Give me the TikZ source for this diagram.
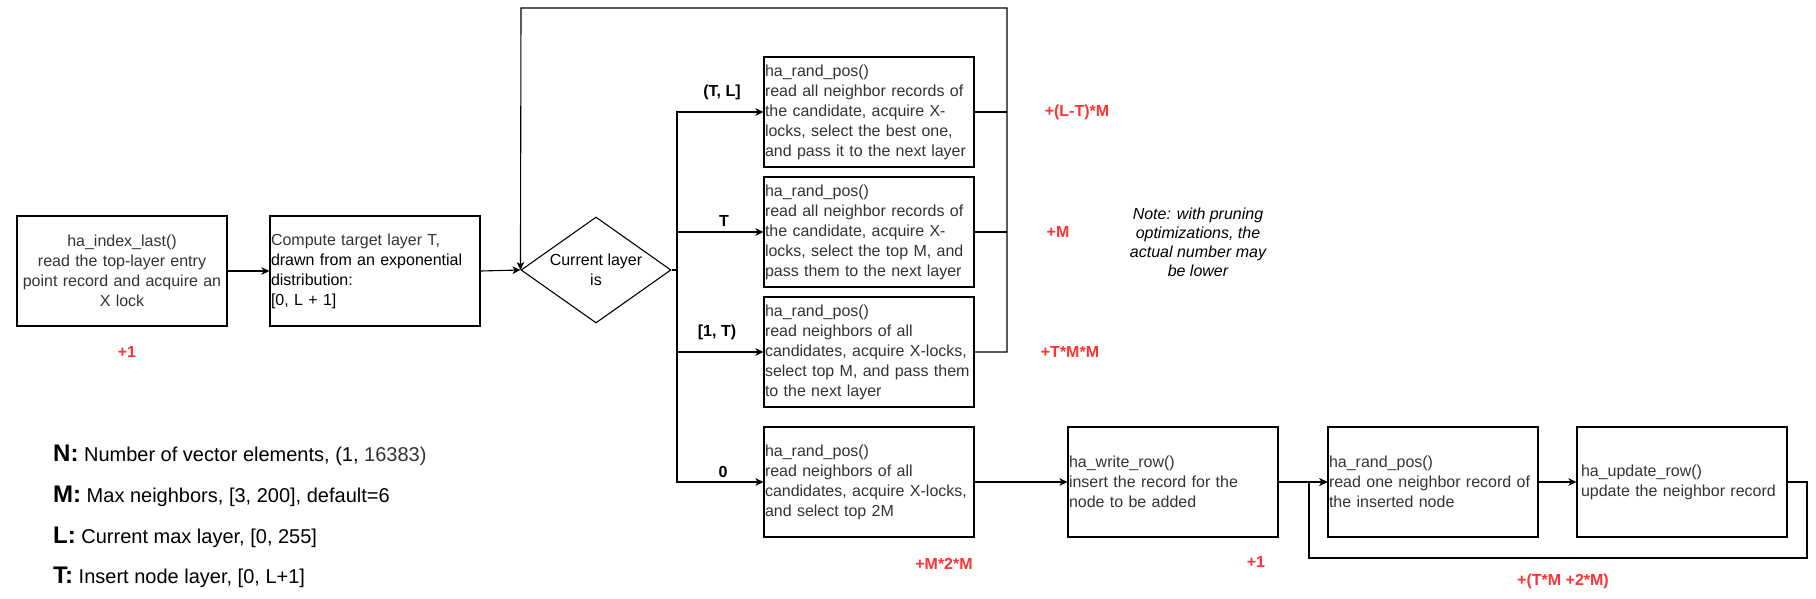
\documentclass[tikz,border=0pt]{standalone}
\usepackage{fontspec}
\setmainfont{Liberation Sans}
\usetikzlibrary{shapes.geometric,arrows.meta}
\definecolor{txtgray}{HTML}{333333}
\definecolor{costred}{HTML}{FF3333}
\begin{document}
\begin{tikzpicture}[x=1pt,y=-1pt,
  box/.style={draw, line width=1.1pt, rectangle, minimum width=210pt, minimum height=110pt,
    text width=208pt, inner xsep=1pt, inner ysep=0pt, align=left,
    font=\fontsize{16}{20}\selectfont, text=txtgray},
  ln/.style={draw, line width=1.1pt},
  arr/.style={ln, -{Stealth[length=8pt,width=7.5pt,inset=2.2pt]}},
  lab/.style={font=\bfseries\fontsize{16}{20}\selectfont, inner sep=0pt},
  cost/.style={lab, text=costred},
  legend/.style={anchor=base west, inner sep=0pt, font=\fontsize{20}{24}\selectfont},
  key/.style={font=\bfseries\fontsize{24}{24}\selectfont}
]
\useasboundingbox (0,0) rectangle (1816,598);

% main chain
\node[box, align=center] (idx) at (122,271) {ha\_index\_last()\\read the top-layer entry\\point record and acquire an\\X lock};
\node[box] (comp) at (375,271) {Compute target layer T,\\{\color{black}drawn from an exponential}\\{\color{black}distribution:}\\{\color{black}[0, L + 1]}};
\node[diamond, draw, line width=1.1pt, shape aspect=1.415, minimum width=150pt, minimum height=106pt,
  inner sep=0pt, align=center, font=\fontsize{16}{20}\selectfont] (dia) at (596,270) {Current layer\\is};

% layer branches
\node[box] (A) at (869,112) {ha\_rand\_pos()\\read all neighbor records of\\the candidate, acquire X-\\locks, select the best one,\\and pass it to the next layer};
\node[box] (B) at (869,232) {ha\_rand\_pos()\\read all neighbor records of\\the candidate, acquire X-\\locks, select the top M, and\\pass them to the next layer};
\node[box] (C) at (869,352) {ha\_rand\_pos()\\read neighbors of all\\candidates, acquire X-locks,\\select top M, and pass them\\to the next layer};
\node[box] (D) at (869,482) {ha\_rand\_pos()\\read neighbors of all\\candidates, acquire X-locks,\\and select top 2M};

% bottom chain
\node[box] (E) at (1173,482) {ha\_write\_row()\\insert the record for the\\node to be added};
\node[box] (F) at (1433,482) {ha\_rand\_pos()\\read one neighbor record of\\the inserted node};
\node[box, text width=202pt, inner xsep=4pt] (G) at (1682,482) {ha\_update\_row()\\update the neighbor record};

% connectors
\draw[arr] (idx) -- (comp);
\draw[arr] (comp.east) -- (dia.west);

\coordinate (br) at (677,270);
\draw[ln] (dia.east) -- (br);
\draw[arr] (br) |- (A.west);
\draw[arr] (br) |- (B.west);
\draw[arr] (br) |- (C.west);
\draw[arr] (br) |- (D.west);

\coordinate (loopR) at (1007,8);
\coordinate (loopL) at (521,8);
\draw[ln] (A.east) -- (A.east -| loopR);
\draw[ln] (B.east) -- (B.east -| loopR);
\draw[arr] (C.east) -| (loopR) -- (loopL) -- (dia.west);

\draw[arr] (D) -- (E);
\draw[arr] (E) -- (F);
\draw[arr] (F) -- (G);
\coordinate (gl1) at (1807,558);
\coordinate (gl2) at (1309,558);
\draw[arr] (G.east) -| (gl1) -- (gl2) |- (F.west);

% branch labels
\node[lab] (lTL) at (722,92) {(T, L]};
\node[lab] (lT) at (724,221) {T};
\node[lab] (l1T) at (717,332) {[1, T)};
\node[lab] (l0) at (723,472) {0};

% cost labels
\node[cost] (c1) at (127,352) {+1};
\node[cost] (cA) at (1077,112) {+(L-T)*M};
\node[cost] (cB) at (1058,232) {+M};
\node[cost] (cC) at (1070,352) {+T*M*M};
\node[cost] (cD) at (944,564) {+M*2*M};
\node[cost] (cE) at (1256,562) {+1};
\node[cost] (cG) at (1563,581) {+(T*M +2*M)};

% note
\node[align=center, inner sep=0pt, font=\itshape\fontsize{16}{19}\selectfont] (note) at (1198,242)
  {Note: with pruning\\optimizations, the\\actual number may\\be lower};

% legend
\node[legend] (kN) at (53,461) {{\bfseries\fontsize{24}{24}\selectfont N:} Number of vector elements, (1, {\color{txtgray}16383)}};
\node[legend] (kM) at (53,502) {{\bfseries\fontsize{24}{24}\selectfont M:} Max neighbors, [3, 200], default=6};
\node[legend] (kL) at (53,543) {{\bfseries\fontsize{24}{24}\selectfont L:} Current max layer, [0, 255]};
\node[legend] (kT) at (53,583) {{\bfseries\fontsize{24}{24}\selectfont T:} Insert node layer, [0, L+1]};
\end{tikzpicture}
\end{document}
